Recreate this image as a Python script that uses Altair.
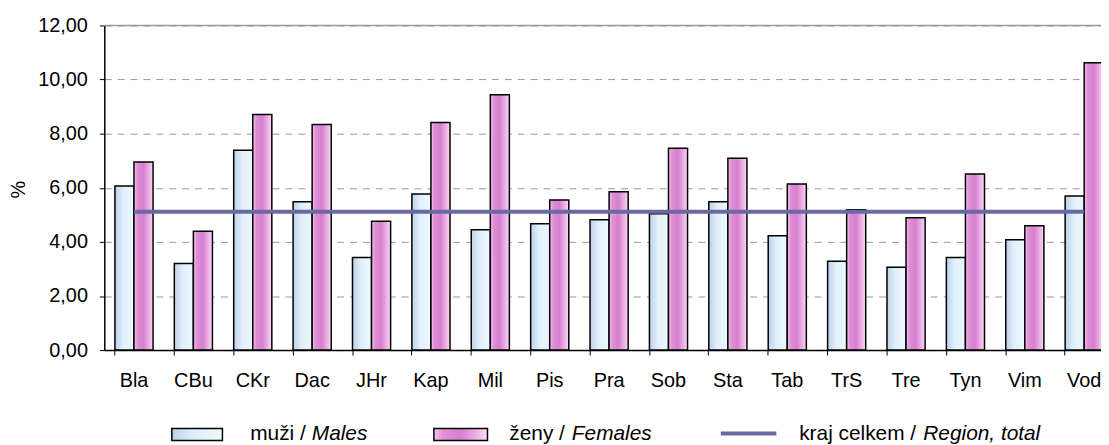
import altair as alt
import pandas as pd

# ---- data ----
categories = ["Bla", "CBu", "CKr", "Dac", "JHr", "Kap", "Mil", "Pis", "Pra",
              "Sob", "Sta", "Tab", "TrS", "Tre", "Tyn", "Vim", "Vod"]
males = [6.07, 3.20, 7.39, 5.48, 3.42, 5.77, 4.45, 4.67, 4.82,
         5.04, 5.48, 4.23, 3.28, 3.06, 3.42, 4.08, 5.70]
females = [6.95, 4.39, 8.71, 8.34, 4.76, 8.41, 9.44, 5.55, 5.85,
           7.46, 7.09, 6.14, 5.19, 4.89, 6.51, 4.60, 10.62]
region_total = 5.11
y_ticks = [0, 2, 4, 6, 8, 10, 12]

S_M = "muži / Males"
S_F = "ženy / Females"
series_order = [S_M, S_F]

df_bars = pd.DataFrame({
    "cat": categories * 2,
    "series": [S_M] * len(categories) + [S_F] * len(categories),
    "value": males + females,
})
df_line = pd.DataFrame({"cat": categories, "value": [region_total] * len(categories)})

FONT = "Liberation Sans"
BLACK = "#000000"
LINE_C = "#6a6aa2"
GRID_C = "#999999"

grad_m = alt.Gradient(gradient="linear", x1=0, x2=1, y1=0, y2=0, stops=[
    alt.GradientStop(offset=0, color="#bcd1e9"),
    alt.GradientStop(offset=0.45, color="#e2f0fb"),
    alt.GradientStop(offset=1, color="#ecf8fe"),
])
grad_f = alt.Gradient(gradient="linear", x1=0, x2=1, y1=0, y2=0, stops=[
    alt.GradientStop(offset=0, color="#f6c4ee"),
    alt.GradientStop(offset=0.18, color="#df8fd7"),
    alt.GradientStop(offset=0.5, color="#d680ce"),
    alt.GradientStop(offset=0.82, color="#efb6e9"),
    alt.GradientStop(offset=1, color="#fcdcf8"),
])

PLOT_W = 1004   # visible part of the plot (the reference is cut at the right edge)
RANGE_W = 1017  # full width of the 17 category bands

x_enc = alt.X("cat:N", sort=categories,
              scale=alt.Scale(domain=categories, range=[0, RANGE_W],
                              paddingInner=0.358, paddingOuter=0.179),
              axis=alt.Axis(title=None, labelAngle=0, bandPosition=0, ticks=True,
                            tickSize=5, tickColor=BLACK, domainColor=BLACK, domainWidth=1.5,
                            labelFont=FONT, labelFontSize=20, labelColor=BLACK,
                            labelPadding=16, grid=False, labelBaseline="top"))
y_enc = alt.Y("value:Q",
              scale=alt.Scale(domain=[0, 12], nice=False),
              axis=alt.Axis(title="%", values=y_ticks,
                            labelExpr="replace(format(datum.value, '.2f'), '.', ',')",
                            tickSize=5, tickColor=BLACK, domainColor=BLACK, domainWidth=1.5,
                            labelFont=FONT, labelFontSize=20, labelColor=BLACK,
                            labelPadding=12, labelBaseline="middle",
                            grid=True, gridColor=GRID_C, gridDash=[7, 6], gridWidth=1,
                            titleFont=FONT, titleFontSize=20, titleFontWeight="normal",
                            titleColor=BLACK, titleX=-86, titleY=165, titleAngle=-90,
                            titleAlign="center", titleBaseline="middle"))
xoff = alt.XOffset("series:N", scale=alt.Scale(domain=series_order, paddingInner=0, paddingOuter=0))

base = alt.Chart(df_bars)
bars_m = base.transform_filter(alt.datum.series == S_M).mark_bar(
    fill=grad_m, stroke=BLACK, strokeWidth=1.5).encode(x=x_enc, xOffset=xoff, y=y_enc)
bars_f = base.transform_filter(alt.datum.series == S_F).mark_bar(
    fill=grad_f, stroke=BLACK, strokeWidth=1.5).encode(x=x_enc, xOffset=xoff, y=y_enc)

line = alt.Chart(df_line).mark_line(color=LINE_C, strokeWidth=4).encode(
    x=alt.X("cat:N", sort=categories), y=alt.Y("value:Q"))

dummy = pd.DataFrame({"k": [0]})
top_border = alt.Chart(dummy).mark_rule(color=GRID_C, strokeWidth=1.5).encode(
    y=alt.datum(12), x=alt.value(0), x2=alt.value(RANGE_W))

# ---- custom legend (below plot) ----
LY = 412  # legend centre line, relative to the plot top
LFS = 21

def leg_rect(x1, x2, fill):
    return alt.Chart(dummy).mark_rect(fill=fill, stroke=BLACK, strokeWidth=1.5).encode(
        x=alt.value(x1), x2=alt.value(x2), y=alt.value(LY - 6), y2=alt.value(LY + 6))

def leg_text(x, txt, italic=False):
    return alt.Chart(dummy).mark_text(text=txt, font=FONT, fontSize=LFS, color=BLACK,
                                      align="left", baseline="middle",
                                      fontStyle="italic" if italic else "normal").encode(
        x=alt.value(x), y=alt.value(LY))

legend = [
    leg_rect(68, 119, grad_m),
    leg_text(147, "muži / "),
    leg_text(209, "Males", True),
    leg_rect(332, 386, grad_f),
    leg_text(408, "ženy / "),
    leg_text(471, "Females", True),
    alt.Chart(dummy).mark_rule(color=LINE_C, strokeWidth=4).encode(
        x=alt.value(621), x2=alt.value(677), y=alt.value(LY - 1)),
    leg_text(700, "kraj celkem / "),
    leg_text(825, "Region, total", True),
]

chart = alt.layer(top_border, bars_m, bars_f, line, *legend).properties(
    width=PLOT_W, height=327,
    autosize=alt.AutoSizeParams(type="none"),
    padding={"left": 97, "top": 16, "right": 0, "bottom": 94},
    background="white",
).configure_view(stroke=None)

chart.save("out.html", embed_options={"renderer": "svg", "actions": False})
